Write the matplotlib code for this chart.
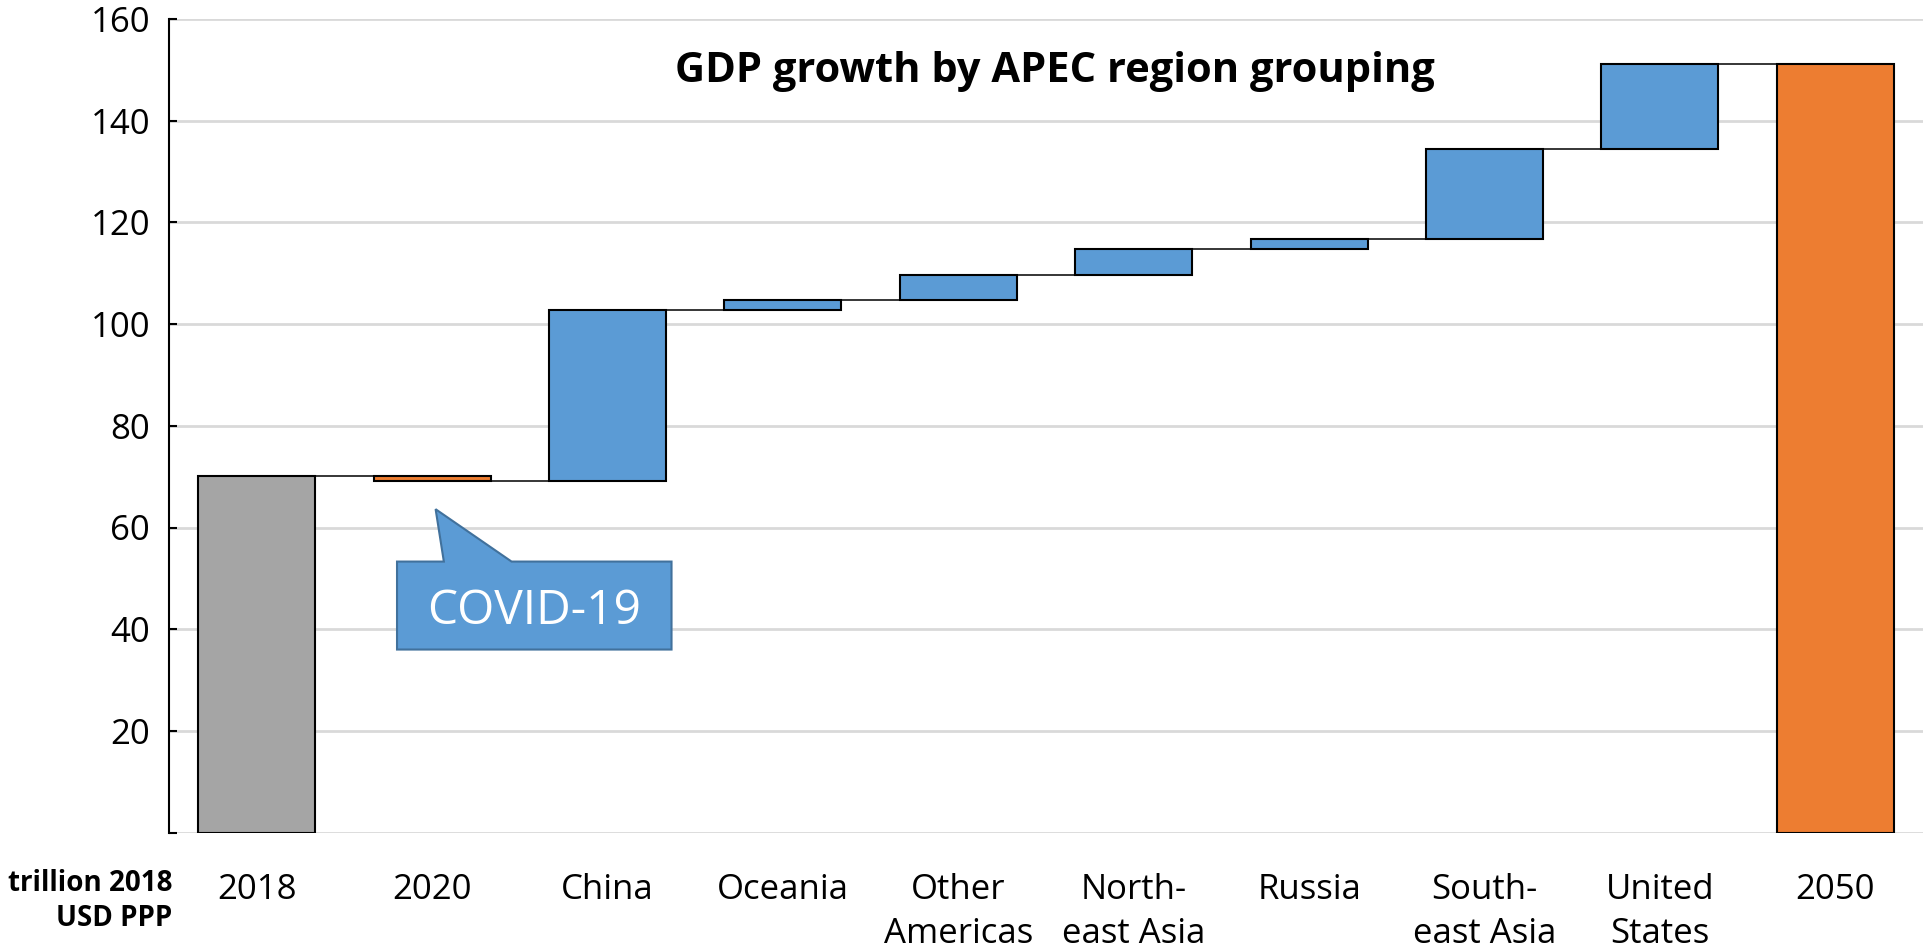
import matplotlib
matplotlib.use("Agg")
import matplotlib.pyplot as plt
from matplotlib.patches import Polygon

plt.rcParams['font.family'] = ['Open Sans', 'DejaVu Sans']

# ---- data ----
categories = ["2018", "2020", "China", "Oceania", "Other\nAmericas", "North-\neast Asia",
              "Russia", "South-\neast Asia", "United\nStates", "2050"]
start_total = 70.1
changes = [-1.0, 33.6, 2.0, 5.0, 5.1, 1.9, 17.7, 16.7]   # 2020 ... United States
y_ticks = [0, 20, 40, 60, 80, 100, 120, 140, 160]
y_ticklabels = ["", "20", "40", "60", "80", "100", "120", "140", "160"]
title = "GDP growth by APEC region grouping"
unit_label = "trillion 2018\nUSD PPP"
callout_text = "COVID-19"

GRAY = "#A5A5A5"
BLUE = "#5B9BD5"
ORANGE = "#ED7D31"

fig = plt.figure(figsize=(19.23, 9.51), dpi=100)
ax = fig.add_axes([169 / 1923, 118.4 / 951, 1 - 169 / 1923, (932 - 118.4) / 951])

width = 2 / 3
# compute bars
bottoms, heights, colors, levels = [], [], [], []
bottoms.append(0); heights.append(start_total); colors.append(GRAY)
level = start_total
levels.append(level)
for c in changes:
    new = level + c
    bottoms.append(min(level, new))
    heights.append(abs(c))
    colors.append(BLUE if c >= 0 else ORANGE)
    level = new
    levels.append(level)
end_total = level
bottoms.append(0); heights.append(end_total); colors.append(ORANGE)

x = list(range(len(categories)))
ax.bar(x, heights, bottom=bottoms, width=width, color=colors,
       edgecolor="black", linewidth=1.5, zorder=3)

# connectors
for i in range(len(categories) - 1):
    ax.plot([i + width / 2, i + 1 - width / 2], [levels[i], levels[i]],
            color="black", linewidth=1.1, zorder=2, solid_capstyle="butt")

ax.set_xlim(-0.5, len(categories) - 0.5)
ax.set_ylim(0, 160)
ax.set_yticks(y_ticks)
ax.set_yticklabels(y_ticklabels)
ax.set_xticks(x)
ax.set_xticklabels(categories, linespacing=1.38)
ax.tick_params(axis="y", direction="in", length=6, width=1.5, pad=13.5,
               labelsize=25, colors="black")
ax.tick_params(axis="x", length=0, pad=29, labelsize=25)
ax.grid(axis="y", color="#D9D9D9", linewidth=2, zorder=0)
ax.set_axisbelow(True)
for s in ["top", "right", "bottom"]:
    ax.spines[s].set_visible(False)
ax.spines["left"].set_linewidth(1.5)
ax.spines["left"].set_zorder(4)

# title
ax.text(0.505, 0.922, title, transform=ax.transAxes, ha="center", va="baseline",
        fontsize=30, fontweight="bold")

# unit label
fig.text(172 / 1923, 82 / 951, unit_label, ha="right", va="top",
         fontsize=20, fontweight="bold", linespacing=1.25)

# callout for COVID-19 (relative to the 2020 bar)
cx = 1
tip_y = levels[1] - 5.5
poly = [(cx - 0.20, 36.0), (cx - 0.20, 53.3), (cx + 0.067, 53.3), (cx + 0.02, tip_y),
        (cx + 0.453, 53.3), (cx + 1.365, 53.3), (cx + 1.365, 36.0)]
ax.add_patch(Polygon(poly, closed=True, facecolor=BLUE, edgecolor="#41719C",
                     linewidth=1.5, zorder=5))
ax.text(cx + 0.5825, 43.6, callout_text, ha="center", va="center", color="white",
        fontsize=34.5, zorder=6)

fig.savefig("out.png", dpi=100)
